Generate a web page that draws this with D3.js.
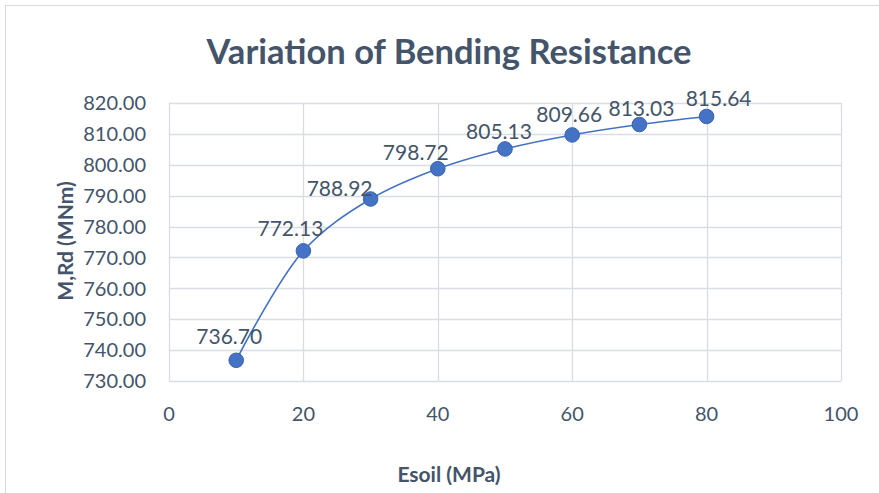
<!DOCTYPE html>
<html>
<head>
<meta charset="utf-8">
<script src="https://cdn.jsdelivr.net/npm/d3@7"></script>
<style>
  body { margin: 0; background: #fff; }
  svg text { font-family: Lato, "Open Sans", sans-serif; fill: #44546a; }
</style>
</head>
<body>
<div id="chart"></div>
<script>
// data
var esoil = [10, 20, 30, 40, 50, 60, 70, 80];
var mrd = [736.70, 772.13, 788.92, 798.72, 805.13, 809.66, 813.03, 815.64];
var xTicks = [0, 20, 40, 60, 80, 100];
var yTicks = [730, 740, 750, 760, 770, 780, 790, 800, 810, 820];

// label nudges (px) as placed in the original
var labelDx = [-7, -13, -31, -22, -6, -3, 2, 12];
var labelDy = [-16, -15, -3, -9, -10, -13, -9, -10];

var width = 879, height = 493;
var plot = { left: 169, right: 841, top: 103, bottom: 381 };

var svg = d3.select("#chart").append("svg")
    .attr("width", width)
    .attr("height", height);

// chart border
svg.append("rect")
    .attr("x", 5.5).attr("y", 5.5)
    .attr("width", width + 10).attr("height", height + 10)
    .attr("fill", "none")
    .attr("stroke", "#d9d9d9");

var x = d3.scaleLinear().domain([0, 100]).range([plot.left, plot.right]);
var y = d3.scaleLinear().domain([730, 820]).range([plot.bottom, plot.top]);

// gridlines
svg.append("g").selectAll("line").data(yTicks).enter().append("line")
    .attr("x1", plot.left).attr("x2", plot.right)
    .attr("y1", function (d) { return Math.round(y(d)) + 0.5; })
    .attr("y2", function (d) { return Math.round(y(d)) + 0.5; })
    .attr("stroke", "#d9dde3").attr("stroke-width", 1.3);

svg.append("g").selectAll("line").data(xTicks).enter().append("line")
    .attr("y1", plot.top).attr("y2", plot.bottom)
    .attr("x1", function (d) { return Math.round(x(d)) + 0.5; })
    .attr("x2", function (d) { return Math.round(x(d)) + 0.5; })
    .attr("stroke", "#d9dde3").attr("stroke-width", 1.3);

// tick labels
svg.append("g").selectAll("text").data(yTicks).enter().append("text")
    .attr("x", 146)
    .attr("y", function (d) { return y(d); })
    .attr("dy", "0.36em")
    .attr("text-anchor", "end")
    .attr("font-size", 20)
    .text(function (d) { return d.toFixed(2); });

svg.append("g").selectAll("text").data(xTicks).enter().append("text")
    .attr("x", function (d) { return x(d); })
    .attr("y", 421)
    .attr("text-anchor", "middle")
    .attr("font-size", 20)
    .text(function (d) { return d; });

// titles
svg.append("text")
    .attr("x", 449).attr("y", 64)
    .attr("text-anchor", "middle")
    .attr("font-size", 34.5)
    .attr("font-weight", "bold")
    .text("Variation of Bending Resistance");

svg.append("text")
    .attr("x", 449).attr("y", 482)
    .attr("text-anchor", "middle")
    .attr("font-size", 21)
    .attr("font-weight", "bold")
    .text("Esoil (MPa)");

svg.append("text")
    .attr("transform", "translate(73,241) rotate(-90)")
    .attr("text-anchor", "middle")
    .attr("font-size", 21)
    .attr("font-weight", "bold")
    .text("M,Rd (MNm)");

// series
var pts = esoil.map(function (d, i) { return [d, mrd[i]]; });

var line = d3.line()
    .x(function (d) { return x(d[0]); })
    .y(function (d) { return y(d[1]); })
    .curve(d3.curveCatmullRom.alpha(0.5));

svg.append("path")
    .datum(pts)
    .attr("d", line)
    .attr("fill", "none")
    .attr("stroke", "#4472c4")
    .attr("stroke-width", 1.6);

svg.append("g").selectAll("circle").data(pts).enter().append("circle")
    .attr("cx", function (d) { return x(d[0]); })
    .attr("cy", function (d) { return y(d[1]); })
    .attr("r", 7.3)
    .attr("fill", "#4472c4")
    .attr("stroke", "#3a63ad")
    .attr("stroke-width", 1);

svg.append("g").selectAll("text").data(pts).enter().append("text")
    .attr("x", function (d, i) { return x(d[0]) + labelDx[i]; })
    .attr("y", function (d, i) { return y(d[1]) + labelDy[i]; })
    .attr("text-anchor", "middle")
    .attr("font-size", 21)
    .text(function (d) { return d[1].toFixed(2); });
</script>
</body>
</html>
